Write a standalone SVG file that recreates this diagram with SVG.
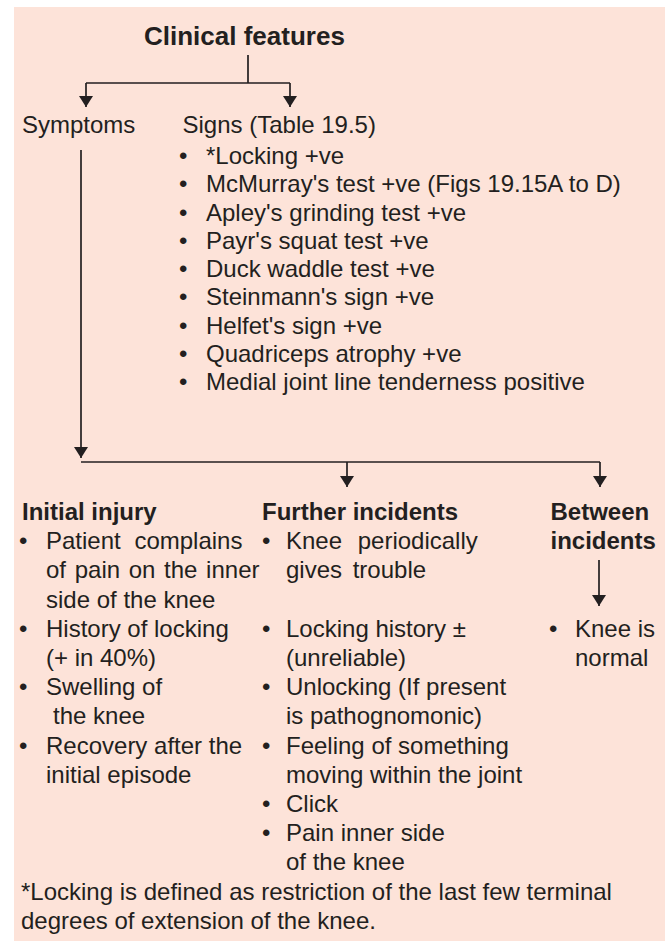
<svg xmlns="http://www.w3.org/2000/svg" width="665" height="942" viewBox="0 0 665 942">
<style>
text{font-family:"Liberation Sans",Arial,Helvetica,sans-serif;font-size:24px;fill:#231f20}
.b{font-weight:bold}
.t{font-size:26px;font-weight:bold}
.ln{fill:none;stroke:#231f20;stroke-width:1.7}
</style>
<defs>
<marker id="ah" viewBox="0 0 11 14" refX="11" refY="7" markerWidth="11" markerHeight="14" markerUnits="userSpaceOnUse" orient="auto">
<path d="M0,0 L11,7 L0,14 z" fill="#231f20"/>
</marker>
</defs>
<rect x="14" y="7" width="651" height="934" fill="#fde3d9"/>
<g id="connectors">
<path class="ln" d="M248,55 V83 M86,83 H290"/>
<path class="ln" d="M86,83 V107" marker-end="url(#ah)"/>
<path class="ln" d="M290,83 V107" marker-end="url(#ah)"/>
<path class="ln" d="M81,150 V458" marker-end="url(#ah)"/>
<path class="ln" d="M81,462 H600"/>
<path class="ln" d="M347,462 V487" marker-end="url(#ah)"/>
<path class="ln" d="M600,462 V487" marker-end="url(#ah)"/>
<path class="ln" d="M599,560 V606" marker-end="url(#ah)"/>
</g>
<g id="title"><text class="t" x="144" y="45">Clinical features</text></g>
<g id="symptoms"><text x="22" y="133">Symptoms</text></g>
<g id="signs">
<text x="182.5" y="133">Signs (Table 19.5)</text>
<text x="179" y="164">•</text><text x="206" y="164">*Locking +ve</text>
<text x="179" y="192">•</text><text x="206" y="192">McMurray's test +ve (Figs 19.15A to D)</text>
<text x="179" y="220.5">•</text><text x="206" y="220.5">Apley's grinding test +ve</text>
<text x="179" y="249">•</text><text x="206" y="249">Payr's squat test +ve</text>
<text x="179" y="277">•</text><text x="206" y="277">Duck waddle test +ve</text>
<text x="179" y="305">•</text><text x="206" y="305">Steinmann's sign +ve</text>
<text x="179" y="333.5">•</text><text x="206" y="333.5">Helfet's sign +ve</text>
<text x="179" y="362">•</text><text x="206" y="362">Quadriceps atrophy +ve</text>
<text x="179" y="390">•</text><text x="206" y="390">Medial joint line tenderness positive</text>
</g>
<g id="initial-injury">
<text class="b" x="22" y="520">Initial injury</text>
<text x="19" y="549">•</text><text x="46" y="549" word-spacing="7">Patient complains</text>
<text x="46" y="578" word-spacing="2">of pain on the inner</text>
<text x="46" y="607.5">side of the knee</text>
<text x="19" y="637">•</text><text x="46" y="637">History of locking</text>
<text x="46" y="666">(+ in 40%)</text>
<text x="19" y="695">•</text><text x="46" y="695">Swelling of</text>
<text x="53" y="724">the knee</text>
<text x="19" y="753.5">•</text><text x="46" y="753.5">Recovery after the</text>
<text x="46" y="783">initial episode</text>
</g>
<g id="further-incidents">
<text class="b" x="262" y="520">Further incidents</text>
<text x="262" y="549">•</text><text x="286" y="549" word-spacing="9">Knee periodically</text>
<text x="286" y="578" word-spacing="4">gives trouble</text>
<text x="262" y="637">•</text><text x="286" y="637">Locking history ±</text>
<text x="286" y="666">(unreliable)</text>
<text x="262" y="695">•</text><text x="286" y="695">Unlocking (If present</text>
<text x="286" y="724">is pathognomonic)</text>
<text x="262" y="753.5">•</text><text x="286" y="753.5">Feeling of something</text>
<text x="286" y="783">moving within the joint</text>
<text x="262" y="812">•</text><text x="286" y="812">Click</text>
<text x="262" y="841">•</text><text x="286" y="841">Pain inner side</text>
<text x="286" y="870">of the knee</text>
</g>
<g id="between-incidents">
<text class="b" x="550.5" y="520">Between</text>
<text class="b" x="550.5" y="549">incidents</text>
</g>
<g id="knee-normal">
<text x="549" y="637">•</text><text x="575" y="637">Knee is</text>
<text x="575" y="666">normal</text>
</g>
<g id="footnote">
<text x="21" y="899.5">*Locking is defined as restriction of the last few terminal</text>
<text x="21" y="929">degrees of extension of the knee.</text>
</g>
</svg>
